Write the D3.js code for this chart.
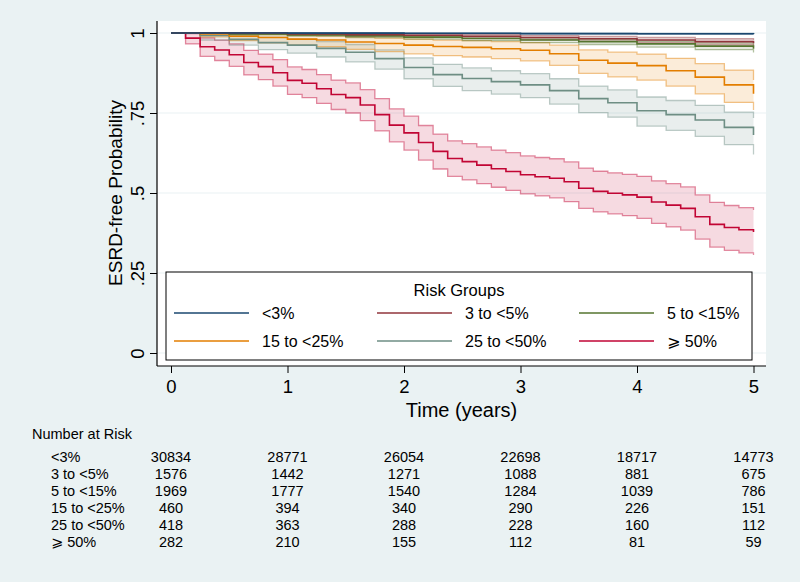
<!DOCTYPE html>
<html>
<head>
<meta charset="utf-8">
<script src="https://cdn.jsdelivr.net/npm/d3@7"></script>
<style>
  html, body { margin: 0; padding: 0; background: #eaf2f3; }
  svg { display: block; font-family: "Liberation Sans", Arial, "DejaVu Sans", sans-serif; }
</style>
</head>
<body>
<svg id="chart" width="800" height="582"></svg>
<script>
// ---------------- data ----------------
const groups = ["<3%", "3 to <5%", "5 to <15%", "15 to <25%", "25 to <50%", "⩾ 50%"];
const groupColors = ["#1a476f", "#90353b", "#55752f", "#e37e00", "#6e8e84", "#c10534"];

const xTicks = [0, 1, 2, 3, 4, 5];
const yTicks = [0, 0.25, 0.5, 0.75, 1];
const yTickLabels = ["0", ".25", ".5", ".75", "1"];

// <3%
const tLow = [0, 1, 2, 3, 4, 5];
const sLow = [1, 0.9995, 0.999, 0.998, 0.9975, 0.997];
const loLow = [1, 0.9985, 0.998, 0.997, 0.9962, 0.9955];
const hiLow = [1, 1, 0.9998, 0.999, 0.9988, 0.9984];

// 3 to <5%
const tG2 = [0, 0.5, 1, 1.5, 2, 2.5, 3, 3.5, 4, 4.5, 5];
const sG2 = [1, 0.999, 0.997, 0.995, 0.993, 0.99, 0.986, 0.982, 0.978, 0.973, 0.968];
const loG2 = [1, 0.997, 0.994, 0.991, 0.988, 0.984, 0.979, 0.974, 0.969, 0.963, 0.957];
const hiG2 = [1, 1, 0.999, 0.998, 0.997, 0.995, 0.992, 0.989, 0.986, 0.982, 0.978];

// 5 to <15%
const tG3 = [0, 0.5, 1, 1.5, 2, 2.5, 3, 3.5, 4, 4.5, 5];
const sG3 = [1, 0.997, 0.994, 0.991, 0.987, 0.983, 0.978, 0.973, 0.966, 0.959, 0.951];
const loG3 = [1, 0.994, 0.99, 0.986, 0.981, 0.976, 0.97, 0.964, 0.956, 0.948, 0.939];
const hiG3 = [1, 0.999, 0.997, 0.995, 0.992, 0.989, 0.985, 0.981, 0.975, 0.969, 0.962];

// 15 to <25%
const tG4 = [0, 0.25, 0.5, 0.75, 1, 1.25, 1.5, 1.75, 2, 2.25, 2.5, 2.75, 3, 3.25, 3.5, 3.75, 4, 4.25, 4.5, 4.75, 5];
const sG4 = [1, 0.997, 0.99, 0.986, 0.981, 0.978, 0.972, 0.967, 0.962, 0.958, 0.955, 0.951, 0.946, 0.935, 0.915, 0.906, 0.898, 0.882, 0.862, 0.838, 0.81];
const loG4 = [1, 0.988, 0.976, 0.969, 0.962, 0.957, 0.949, 0.942, 0.935, 0.929, 0.925, 0.92, 0.913, 0.899, 0.874, 0.863, 0.853, 0.834, 0.81, 0.783, 0.759];
const hiG4 = [1, 1, 0.998, 0.996, 0.993, 0.991, 0.987, 0.984, 0.981, 0.978, 0.976, 0.973, 0.97, 0.962, 0.947, 0.94, 0.934, 0.921, 0.904, 0.884, 0.853];

// 25 to <50%
const tG5 = [0, 0.25, 0.5, 0.75, 1, 1.25, 1.5, 1.75, 2, 2.25, 2.5, 2.75, 3, 3.25, 3.5, 3.75, 4, 4.25, 4.5, 4.75, 5];
const sG5 = [1, 0.992, 0.98, 0.97, 0.962, 0.952, 0.94, 0.92, 0.892, 0.87, 0.858, 0.848, 0.838, 0.82, 0.795, 0.782, 0.757, 0.745, 0.728, 0.705, 0.681];
const loG5 = [1, 0.978, 0.962, 0.948, 0.937, 0.925, 0.91, 0.887, 0.857, 0.833, 0.82, 0.809, 0.798, 0.778, 0.751, 0.737, 0.709, 0.696, 0.677, 0.651, 0.62];
const hiG5 = [1, 0.999, 0.993, 0.987, 0.981, 0.973, 0.964, 0.947, 0.922, 0.902, 0.891, 0.882, 0.873, 0.857, 0.834, 0.822, 0.8, 0.789, 0.774, 0.753, 0.734];

// >= 50%
const tHigh = [0, 0.125, 0.25, 0.375, 0.5, 0.625, 0.75, 0.875, 1, 1.125, 1.25, 1.375, 1.5, 1.625, 1.75, 1.875, 2, 2.125, 2.25, 2.375, 2.5, 2.625, 2.75, 2.875, 3, 3.125, 3.25, 3.375, 3.5, 3.625, 3.75, 3.875, 4, 4.125, 4.25, 4.375, 4.5, 4.625, 4.75, 4.875, 5];
const sHigh = [1, 0.984, 0.957, 0.947, 0.932, 0.908, 0.895, 0.876, 0.852, 0.843, 0.826, 0.808, 0.798, 0.775, 0.745, 0.712, 0.688, 0.658, 0.63, 0.608, 0.598, 0.587, 0.576, 0.567, 0.557, 0.551, 0.546, 0.535, 0.515, 0.505, 0.499, 0.494, 0.487, 0.472, 0.462, 0.452, 0.426, 0.402, 0.392, 0.385, 0.378];
const loHigh = [1, 0.966, 0.927, 0.914, 0.896, 0.869, 0.854, 0.834, 0.808, 0.798, 0.78, 0.761, 0.75, 0.726, 0.694, 0.66, 0.634, 0.603, 0.575, 0.552, 0.541, 0.529, 0.518, 0.508, 0.497, 0.491, 0.485, 0.473, 0.452, 0.441, 0.435, 0.429, 0.421, 0.405, 0.394, 0.384, 0.356, 0.331, 0.321, 0.313, 0.306];
const hiHigh = [1, 0.998, 0.985, 0.978, 0.966, 0.946, 0.934, 0.917, 0.894, 0.886, 0.87, 0.853, 0.844, 0.823, 0.795, 0.763, 0.74, 0.711, 0.684, 0.663, 0.654, 0.644, 0.634, 0.626, 0.616, 0.611, 0.607, 0.597, 0.578, 0.568, 0.563, 0.558, 0.552, 0.538, 0.529, 0.519, 0.494, 0.471, 0.461, 0.454, 0.447];

// Number at risk
const riskLow = [30834, 28771, 26054, 22698, 18717, 14773];
const riskG2 = [1576, 1442, 1271, 1088, 881, 675];
const riskG3 = [1969, 1777, 1540, 1284, 1039, 786];
const riskG4 = [460, 394, 340, 290, 226, 151];
const riskG5 = [418, 363, 288, 228, 160, 112];
const riskHigh = [282, 210, 155, 112, 81, 59];

// ---------------- build ----------------
const series = [
  { t: tLow, s: sLow, lo: loLow, hi: hiLow },
  { t: tG2, s: sG2, lo: loG2, hi: hiG2 },
  { t: tG3, s: sG3, lo: loG3, hi: hiG3 },
  { t: tG4, s: sG4, lo: loG4, hi: hiG4 },
  { t: tG5, s: sG5, lo: loG5, hi: hiG5 },
  { t: tHigh, s: sHigh, lo: loHigh, hi: hiHigh }
].map((d, i) => ({
  name: groups[i],
  color: groupColors[i],
  pts: d.t.map((t, j) => ({ t: t, s: d.s[j], lo: d.lo[j], hi: d.hi[j] }))
}));
const riskRows = [riskLow, riskG2, riskG3, riskG4, riskG5, riskHigh];

const svg = d3.select("#chart");
const W = 800, H = 582;

svg.append("rect").attr("width", W).attr("height", H).attr("fill", "#eaf2f3");

const plot = { left: 157, right: 766, top: 21, bottom: 366 };
svg.append("rect")
  .attr("x", plot.left).attr("y", plot.top)
  .attr("width", plot.right - plot.left).attr("height", plot.bottom - plot.top)
  .attr("fill", "#ffffff");

const x = d3.scaleLinear().domain([0, 5]).range([171, 753.5]);
const y = d3.scaleLinear().domain([0, 1]).range([353, 33]);

// grid lines
svg.append("g").selectAll("line").data(yTicks).join("line")
  .attr("x1", plot.left).attr("x2", plot.right)
  .attr("y1", d => y(d)).attr("y2", d => y(d))
  .attr("stroke", "#eaf2f3").attr("stroke-width", 1.2);

// bands
const area = d3.area().curve(d3.curveStepAfter)
  .x(d => x(d.t)).y0(d => y(d.lo)).y1(d => y(d.hi));
const lineS = d3.line().curve(d3.curveStepAfter).x(d => x(d.t)).y(d => y(d.s));
const lineLo = d3.line().curve(d3.curveStepAfter).x(d => x(d.t)).y(d => y(d.lo));
const lineHi = d3.line().curve(d3.curveStepAfter).x(d => x(d.t)).y(d => y(d.hi));

const order = series.slice().reverse();
const gBands = svg.append("g");
order.forEach(sr => {
  gBands.append("path").datum(sr.pts).attr("d", area)
    .attr("fill", sr.color).attr("fill-opacity", 0.15).attr("stroke", "none");
});
order.forEach(sr => {
  gBands.append("path").datum(sr.pts).attr("d", lineLo)
    .attr("fill", "none").attr("stroke", sr.color).attr("stroke-opacity", 0.45).attr("stroke-width", 1.3);
  gBands.append("path").datum(sr.pts).attr("d", lineHi)
    .attr("fill", "none").attr("stroke", sr.color).attr("stroke-opacity", 0.45).attr("stroke-width", 1.3);
});
const gLines = svg.append("g");
order.forEach(sr => {
  gLines.append("path").datum(sr.pts).attr("d", lineS)
    .attr("fill", "none").attr("stroke", sr.color).attr("stroke-width", 1.6);
});

// axes
const yAxis = d3.axisLeft(y).tickValues(yTicks).tickSize(7).tickFormat((d, i) => yTickLabels[i]);
const gy = svg.append("g").attr("transform", `translate(${plot.left},0)`).call(yAxis);
gy.select(".domain").remove();
gy.selectAll(".tick line").attr("stroke", "#000").attr("stroke-width", 1);
gy.selectAll(".tick text")
  .attr("font-size", 18.5).attr("fill", "#000")
  .attr("text-anchor", "middle")
  .attr("x", 0).attr("dy", 0)
  .attr("transform", "translate(-20,0) rotate(-90)")
  .attr("dominant-baseline", "central");

svg.append("line").attr("x1", plot.left).attr("x2", plot.left)
  .attr("y1", plot.top).attr("y2", plot.bottom).attr("stroke", "#000").attr("stroke-width", 1.2);

const xAxis = d3.axisBottom(x).tickValues(xTicks).tickSize(7).tickFormat(d3.format("d"));
const gx = svg.append("g").attr("transform", `translate(0,${plot.bottom})`).call(xAxis);
gx.select(".domain").remove();
gx.selectAll(".tick line").attr("stroke", "#000").attr("stroke-width", 1);
gx.selectAll(".tick text").attr("font-size", 18.5).attr("fill", "#000").attr("y", 14).attr("dy", "0.71em");

svg.append("line").attr("x1", plot.left).attr("x2", plot.right)
  .attr("y1", plot.bottom).attr("y2", plot.bottom).attr("stroke", "#000").attr("stroke-width", 1.2);

// axis titles
svg.append("text").attr("x", (plot.left + plot.right) / 2).attr("y", 417)
  .attr("text-anchor", "middle").attr("font-size", 20).attr("fill", "#000").text("Time (years)");
svg.append("text").attr("transform", `translate(122,193) rotate(-90)`)
  .attr("text-anchor", "middle").attr("font-size", 19).attr("fill", "#000").text("ESRD-free Probability");

// legend
const leg = svg.append("g");
leg.append("rect").attr("x", 166).attr("y", 272).attr("width", 586).attr("height", 88)
  .attr("fill", "#fff").attr("stroke", "#000").attr("stroke-width", 1);
leg.append("text").attr("x", 459).attr("y", 296).attr("text-anchor", "middle")
  .attr("font-size", 16.5).attr("fill", "#000").text("Risk Groups");
const colX = [174, 377, 579];
const rowY = [313, 341];
series.forEach((sr, i) => {
  const cx = colX[i % 3], cy = rowY[Math.floor(i / 3)];
  leg.append("line").attr("x1", cx).attr("x2", cx + 75).attr("y1", cy).attr("y2", cy)
    .attr("stroke", sr.color).attr("stroke-width", 1.6);
  leg.append("text").attr("x", cx + 88).attr("y", cy + 6)
    .attr("font-size", 16).attr("fill", "#000").text(sr.name);
});

// number at risk table
svg.append("text").attr("x", 32).attr("y", 439).attr("font-size", 14.5).attr("fill", "#000").text("Number at Risk");
const tableY = [462, 479, 496, 513, 530, 547];
riskRows.forEach((row, i) => {
  svg.append("text").attr("x", 51).attr("y", tableY[i]).attr("font-size", 14.5).attr("fill", "#000").text(groups[i]);
  row.forEach((v, j) => {
    svg.append("text").attr("x", x(xTicks[j])).attr("y", tableY[i])
      .attr("text-anchor", "middle").attr("font-size", 14.5).attr("fill", "#000").text(v);
  });
});
</script>
</body>
</html>
